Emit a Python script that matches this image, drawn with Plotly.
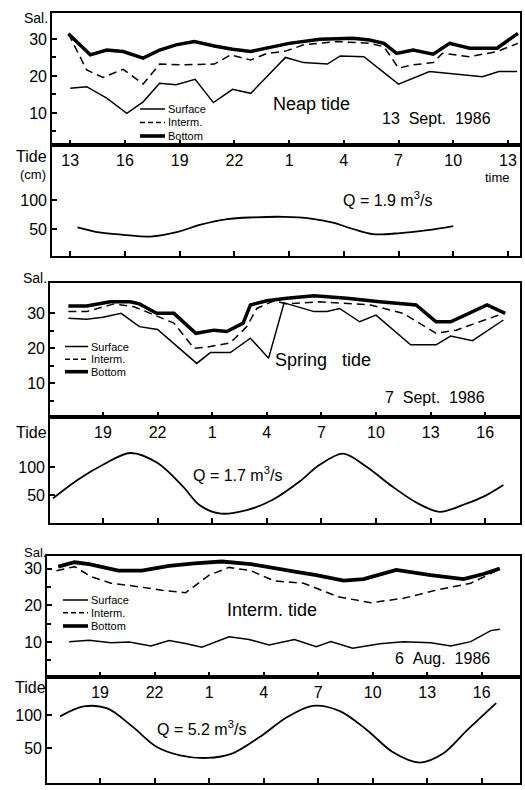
import plotly.graph_objects as go

W, H = 525, 790

# ---------------- data (hours counted from 0 h of the first day) ----------------
# Panel 1: Neap tide, 13 Sept. 1986
neap_bot_h = [12.9, 14.1, 15.0, 15.9, 17.0, 17.9, 18.8, 19.8, 20.9, 21.9, 22.9, 24.1, 25.0, 26.7,
              28.5, 29.4, 30.2, 30.9, 31.8, 32.9, 33.8, 34.9, 36.4, 37.55]
neap_bot = [31.4, 25.7, 27.0, 26.6, 24.8, 27.0, 28.4, 29.3, 28.1, 27.2, 26.6, 27.8, 28.8, 29.9,
            30.2, 29.7, 28.8, 26.1, 27.0, 25.9, 28.8, 27.5, 27.5, 31.5]
neap_int_h = [12.9, 13.9, 14.8, 15.9, 17.0, 17.9, 19.0, 20.9, 21.8, 22.9, 23.8, 24.8, 25.8, 27.6,
              29.4, 30.2, 31.0, 31.8, 32.9, 33.4, 34.9, 36.4, 37.55]
neap_int = [31.4, 21.6, 19.6, 21.8, 17.8, 23.2, 23.0, 23.2, 25.7, 24.3, 26.1, 26.7, 28.4, 29.3,
            28.8, 27.9, 22.1, 23.0, 23.6, 26.1, 25.2, 26.6, 28.8]
neap_surf_h = [13.0, 13.9, 15.0, 16.1, 17.0, 17.9, 18.8, 19.85, 20.85, 21.9, 22.9, 24.8, 25.8,
               27.1, 27.8, 29.1, 31.0, 32.7, 35.6, 36.5, 37.5]
neap_surf = [16.7, 17.1, 14.0, 9.9, 13.0, 18.0, 17.6, 19.1, 12.8, 16.4, 15.3, 25.0, 23.6,
             23.2, 25.4, 25.2, 17.8, 21.2, 19.8, 21.2, 21.2]
neap_tide_h = [13.4, 14.6, 15.9, 17.4, 18.9, 20.1, 21.6, 23.0, 24.7, 26.2, 27.4, 28.5, 29.6,
               31.1, 32.6, 34.0]
neap_tide = [53, 44, 40, 37, 45, 57, 67, 70, 71, 68, 61, 50, 41, 43, 48, 55]

# Panel 2: Spring tide, 7 Sept. 1986
spring_bot_h = [17.1, 18.1, 19.4, 20.5, 21.0, 21.95, 22.9, 24.1, 25.1, 25.8, 26.7, 27.1, 28.0,
                29.1, 30.6, 32.4, 34.2, 36.2, 37.3, 38.1, 40.1, 41.1]
spring_bot = [32.0, 32.0, 33.2, 33.2, 32.6, 29.9, 29.9, 24.2, 25.1, 24.7, 27.1, 32.3, 33.5,
              34.2, 34.9, 34.2, 33.2, 32.3, 27.5, 27.5, 32.3, 29.9]
spring_int_h = [17.1, 18.1, 19.6, 20.7, 21.6, 22.9, 24.0, 24.9, 26.0, 26.9, 27.45, 28.4, 29.1,
                30.9, 33.7, 35.5, 37.3, 38.4, 41.0]
spring_int = [30.4, 30.4, 32.6, 31.8, 29.9, 27.1, 19.9, 20.4, 21.5, 26.1, 31.3, 33.5, 32.6,
              33.2, 32.3, 29.9, 24.2, 25.1, 29.9]
spring_surf_h = [17.1, 18.1, 19.0, 20.0, 21.0, 22.0, 24.15, 24.9, 26.0, 27.1, 28.1, 28.95, 30.6,
                 31.3, 32.0, 33.1, 34.0, 35.9, 37.3, 38.1, 39.3, 41.0]
spring_surf = [28.5, 28.2, 28.8, 29.9, 26.1, 25.3, 15.6, 18.7, 18.7, 22.8, 17.1, 32.9, 30.4,
               30.4, 31.3, 27.5, 29.4, 20.9, 20.9, 23.4, 22.1, 28.0]
spring_tide_h = [16.25, 17.6, 19.0, 20.5, 22.0, 23.4, 24.3, 25.4, 26.9, 28.3, 29.8, 30.9, 32.2,
                 33.5, 34.9, 36.3, 37.5, 39.0, 39.9, 41.0]
spring_tide = [44, 77, 104, 125, 107, 65, 32, 17, 23, 41, 74, 104, 124, 100, 65, 35, 20, 35, 47, 68]

# Panel 3: Intermediate tide, 6 Aug. 1986
interm_bot_h = [16.7, 17.6, 18.4, 20.0, 21.3, 22.8, 24.2, 25.7, 27.3, 28.6, 29.8, 30.9, 32.4,
                33.5, 35.3, 37.2, 39.0, 40.1, 41.0]
interm_bot = [30.5, 31.7, 31.2, 29.4, 29.4, 30.7, 31.4, 31.9, 31.2, 30.0, 29.1, 28.2, 26.7,
              27.1, 29.6, 28.2, 27.1, 28.5, 30.0]
interm_int_h = [16.6, 17.6, 18.5, 19.6, 20.9, 22.4, 23.7, 25.0, 26.1, 27.3, 28.6, 30.2, 32.1,
                33.9, 35.7, 37.5, 39.4, 41.0]
interm_int = [29.4, 30.5, 27.8, 26.0, 25.2, 24.1, 23.4, 28.2, 30.3, 29.4, 26.6, 26.0, 22.3,
              20.7, 21.9, 24.1, 26.0, 29.8]
interm_surf_h = [17.3, 18.4, 19.6, 20.6, 21.8, 22.8, 23.7, 24.6, 26.1, 27.2, 28.3, 29.7, 30.9,
                 31.7, 32.9, 34.4, 35.7, 37.2, 38.3, 39.4, 40.5, 41.0]
interm_surf = [10.1, 10.5, 9.8, 10.0, 8.9, 10.4, 9.6, 8.6, 11.4, 10.7, 9.2, 10.7, 8.7,
               10.1, 8.3, 9.5, 10.1, 9.8, 8.9, 10.1, 13.1, 13.5]
interm_tide_h = [16.8, 18.1, 19.4, 20.8, 22.1, 23.4, 24.9, 26.3, 27.8, 29.3, 30.7, 32.2, 33.7,
                 35.1, 36.6, 37.9, 39.2, 40.8]
interm_tide = [98, 113, 110, 82, 52, 39, 35, 42, 67, 97, 114, 106, 77, 44, 28, 42, 77, 118]

# tick definitions
neap_tickvals = [13, 16, 19, 22, 25, 28, 31, 34, 37]
neap_ticktext = ["13", "16", "19", "22", "1", "4", "7", "10", "13"]
sd_tickvals = [19, 22, 25, 28, 31, 34, 37, 40]
sd_ticktext = ["19", "22", "1", "4", "7", "10", "13", "16"]
sal_tickvals = [10, 20, 30]
sal_ticktext = ["10", "20", "30"]
sal_minor = [5, 15, 25]
tide_tickvals = [50, 100]
tide_ticktext = ["50", "100"]

FONT = "Liberation Sans"


def px_x(p):
    return p / W


def px_y(p):
    return 1 - p / H


panels = [
    dict(xdom=(52, 520), sal=(13, 145), tide=(145, 256), xr=[12.0, 37.66],
         salr=[1.35, 37.0], tider=[3.45, 194.8], tv=neap_tickvals, tt=neap_ticktext,
         bot=(neap_bot_h, neap_bot), mid=(neap_int_h, neap_int), surf=(neap_surf_h, neap_surf),
         td=(neap_tide_h, neap_tide)),
    dict(xdom=(50, 520), sal=(283, 417), tide=(417, 523), xr=[16.09, 41.91],
         salr=[0.29, 38.57], tider=[0.0, 189.3], tv=sd_tickvals, tt=sd_ticktext,
         bot=(spring_bot_h, spring_bot), mid=(spring_int_h, spring_int),
         surf=(spring_surf_h, spring_surf), td=(spring_tide_h, spring_tide)),
    dict(xdom=(47, 520), sal=(556, 677), tide=(677, 783), xr=[16.08, 42.11],
         salr=[0.48, 33.4], tider=[-3.0, 157.6], tv=sd_tickvals, tt=sd_ticktext,
         bot=(interm_bot_h, interm_bot), mid=(interm_int_h, interm_int),
         surf=(interm_surf_h, interm_surf), td=(interm_tide_h, interm_tide)),
]

fig = go.Figure()
layout = {}


def key(kind, n):
    return kind + ("axis" if n == 1 else f"axis{n}")


def ref(kind, n):
    return kind if n == 1 else f"{kind}{n}"


axis_common = dict(showline=True, mirror=True, linecolor="black", linewidth=1.6,
                   showgrid=False, zeroline=False, ticks="inside", ticklen=5,
                   tickwidth=1.5, tickcolor="black",
                   tickfont=dict(family=FONT, size=16, color="black"))

for i, p in enumerate(panels):
    ns, nt = 2 * i + 1, 2 * i + 2
    xd = [px_x(p["xdom"][0]), px_x(p["xdom"][1])]
    layout[key("x", ns)] = dict(axis_common, domain=xd, range=p["xr"], anchor=ref("y", ns),
                                tickvals=p["tv"], ticktext=p["tt"], ticklabelstandoff=0)
    layout[key("y", ns)] = dict(axis_common, domain=[px_y(p["sal"][1]), px_y(p["sal"][0])],
                                range=p["salr"], anchor=ref("x", ns),
                                tickvals=sal_tickvals, ticktext=sal_ticktext,
                                minor=dict(tickvals=sal_minor, ticks="inside", ticklen=4,
                                           tickwidth=1.5, tickcolor="black", showgrid=False))
    layout[key("x", nt)] = dict(axis_common, domain=xd, range=p["xr"], anchor=ref("y", nt),
                                tickvals=p["tv"], showticklabels=False)
    layout[key("y", nt)] = dict(axis_common, domain=[px_y(p["tide"][1]), px_y(p["tide"][0])],
                                range=p["tider"], anchor=ref("x", nt),
                                tickvals=tide_tickvals, ticktext=tide_ticktext)

    xs, ys = ref("x", ns), ref("y", ns)
    fig.add_trace(go.Scatter(x=p["surf"][0], y=p["surf"][1], mode="lines", xaxis=xs, yaxis=ys,
                             line=dict(color="black", width=1.5), showlegend=False))
    fig.add_trace(go.Scatter(x=p["mid"][0], y=p["mid"][1], mode="lines", xaxis=xs, yaxis=ys,
                             line=dict(color="black", width=1.5, dash="8px,5px"), showlegend=False))
    fig.add_trace(go.Scatter(x=p["bot"][0], y=p["bot"][1], mode="lines", xaxis=xs, yaxis=ys,
                             line=dict(color="black", width=3.8 if i == 2 else 3.5),
                             showlegend=False))
    fig.add_trace(go.Scatter(x=p["td"][0], y=p["td"][1], mode="lines",
                             xaxis=ref("x", nt), yaxis=ref("y", nt),
                             line=dict(color="black", width=1.8, shape="spline", smoothing=0.9),
                             showlegend=False))

annotations = []
shapes = []


def text(t, x, y, size=16, xanchor="left"):
    annotations.append(dict(text=t, x=px_x(x), y=px_y(y), xref="paper", yref="paper",
                            showarrow=False, xanchor=xanchor, yanchor="middle", borderpad=0,
                            font=dict(family=FONT, size=size, color="black")))


NB = "\u00a0"
# panel 1
text("Sal.", 49, 18, 14, "right")
text("Tide", 48, 157, 16, "right")
text("(cm)", 47, 175, 13, "right")
text("time", 511, 178, 13, "right")
text("Neap tide", 272, 104, 18)
text("13" + NB * 2 + "Sept." + NB * 2 + "1986", 381, 118, 16)
text("Q = 1.9 m<sup>3</sup>/s", 342, 199, 16)
# panel 2
text("Sal.", 48, 278, 14, "right")
text("Tide", 48, 432, 16, "right")
text("Spring" + NB * 3 + "tide", 274, 360, 18)
text("7" + NB * 2 + "Sept." + NB * 2 + "1986", 384, 397, 16)
text("Q = 1.7 m<sup>3</sup>/s", 192, 474, 16)
# panel 3
text("Sal.", 47, 552, 13, "right")
text("Tide", 47, 687, 16, "right")
text("Interm. tide", 226, 610, 18)
text("6" + NB * 2 + "Aug." + NB * 2 + "1986", 394, 658, 16)
text("Q = 5.2 m<sup>3</sup>/s", 156, 728, 16)

# legends (key line + label), one per panel
legend_pos = [(140, 165, 167, [109, 122.5, 136]),
              (65, 88, 90, [346.5, 359.3, 371.7]),
              (63, 88, 90, [600, 612.7, 626])]
legend_names = ["Surface", "Interm.", "Bottom"]
legend_styles = [dict(width=1.5), dict(width=1.5, dash="5px,3px"), dict(width=3.6)]
for (x0, x1, xt, ys_) in legend_pos:
    for name, sty, yy in zip(legend_names, legend_styles, ys_):
        shapes.append(dict(type="line", xref="paper", yref="paper", x0=px_x(x0), x1=px_x(x1),
                           y0=px_y(yy), y1=px_y(yy), line=dict(color="black", **sty)))
        text(name, xt, yy, 11)

fig.update_layout(**layout)
fig.update_layout(width=W, height=H, margin=dict(l=0, r=0, t=0, b=0),
                  paper_bgcolor="white", plot_bgcolor="white",
                  annotations=annotations, shapes=shapes, showlegend=False)

fig.write_html("out.html")
